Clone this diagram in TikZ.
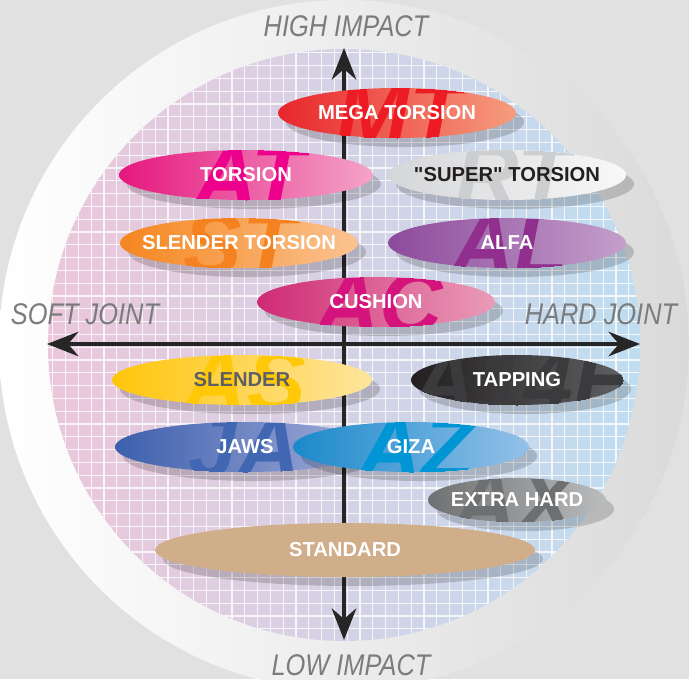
\documentclass[tikz,border=0pt]{standalone}
\usepackage{fontspec}
\setsansfont{Liberation Sans}
\usepackage{tikz}
\usetikzlibrary{arrows.meta,calc,positioning}

% page and chart colours
\definecolor{pageGray}{HTML}{E1E1E1}
\definecolor{ringGray}{HTML}{DADADA}
\definecolor{diskL}{HTML}{EBC7DB}
\definecolor{diskM}{HTML}{DAD4E5}
\definecolor{diskR}{HTML}{BFDDF0}
\definecolor{axisGray}{HTML}{7B7C7E}
% one set per bit: L/R = gradient, T = big tag letters, W = label text
\definecolorset{HTML}{mt}{}{L,E8262C;R,F69C7E;T,ED1C24;W,FFFFFF}
\definecolorset{HTML}{at}{}{L,E5187F;R,F4A3C8;T,EC008C;W,FFFFFF}
\definecolorset{HTML}{rt}{}{L,D5D6D8;R,F8F8F8;T,CDCED0;W,231F20}
\definecolorset{HTML}{st}{}{L,F5861F;R,FBC391;T,F58220;W,FFFFFF}
\definecolorset{HTML}{al}{}{L,8D4A9C;R,C49FCB;T,912F8F;W,FFFFFF}
\definecolorset{HTML}{ac}{}{L,CF2A75;R,EA9CB8;T,D4147C;W,FFFFFF}
\definecolorset{HTML}{as}{}{L,FEC60B;R,FEE59D;T,FFC907;W,5E5F61}
\definecolorset{HTML}{tp}{}{L,231F20;R,5E5F61;T,3B3B3D;W,FFFFFF}
\definecolorset{HTML}{ja}{}{L,3D5FAD;R,A5AFDA;T,4267B2;W,FFFFFF}
\definecolorset{HTML}{az}{}{L,1B89CB;R,93C1E8;T,0096D6;W,FFFFFF}
\definecolorset{HTML}{ax}{}{L,6F7072;R,BBBCBE;T,6E6F71;W,FFFFFF}
\definecolorset{HTML}{sd}{}{L,CFAE89;R,CFAE89;T,CFAE89;W,FFFFFF}

\begin{document}
\begin{tikzpicture}[x=0.02cm,y=-0.02cm,
    bitlabel/.style={font=\sffamily\bfseries\fontsize{11.5}{12}\selectfont, inner sep=0pt},
    bittag/.style={font=\sffamily\bfseries\itshape\fontsize{50}{50}\selectfont, inner sep=0pt},
    axislabel/.style={font=\sffamily\itshape\fontsize{17}{17}\selectfont, text=axisGray, xscale=0.85, inner sep=0pt},
    axisline/.style={line width=2pt, black!85, arrows={Stealth[length=18pt,width=14pt,inset=6pt]-Stealth[length=18pt,width=14pt,inset=6pt]}}]
  \useasboundingbox (0,0) rectangle (689,679);
  \clip (0,0) rectangle (689,679);
  % background and outer ring
  \fill[pageGray] (0,0) rectangle (689,679);
  \shade[left color=white, right color=ringGray] (344,345) circle (345);
  % the tinted disk with its grid
  \shade[left color=diskL, middle color=diskM, right color=diskR] (344,345) circle (296);
  \begin{scope}
    \clip (344,345) circle (296);
    \foreach \g in {0,...,48} {
      \draw[white, line width=0.6pt, opacity=.8] (40+\g*12.8,40) -- ++(0,620);
      \draw[white, line width=0.6pt, opacity=.8] (40,40+\g*12.8) -- ++(620,0);
    }
  \end{scope}
  % axes
  \coordinate (top) at (344,48);
  \coordinate (bottom) at (344,640);
  \coordinate (west) at (47,344);
  \coordinate (east) at (640,344);
  \draw[axisline] (bottom) -- (top);
  \draw[axisline] (west) -- (east);
  \node[axislabel] (high) at (346,26) {HIGH IMPACT};
  \node[axislabel] (low) at (351,665) {LOW IMPACT};
  \node[axislabel] (soft) at (85,314) {SOFT JOINT};
  \node[axislabel] (hard) at (601,314) {HARD JOINT};
  % the bits
  \foreach \n/\x/\y/\rx/\ry/\tag/\tx/\lab in {
      mt/397/113/119/25/MT/400/MEGA TORSION,
      at/246/175/127/25/AT/250/TORSION,
      rt/507/175/119/25/RT/513/\textquotedbl SUPER\textquotedbl{} TORSION,
      st/239/243/119/25/ST/240/SLENDER TORSION,
      al/507/243/119/25/AL/510/ALFA,
      ac/376/302/119/25/AC/380/CUSHION,
      as/242/380/130/25/AS/245/SLENDER,
      tp/517/380/106/25/A14H/525/TAPPING,
      ja/245/447/130/25/JA/245/JAWS,
      az/411/447/118/25/AZ/417/GIZA,
      ax/517/500/89/22/AX/515/EXTRA HARD,
      sd/345/550/190/27//345/STANDARD} {
    \fill[black, opacity=.17] (\x+8,\y+9) ellipse ({\rx} and {\ry});
    \shade[left color=\n L, right color=\n R] (\x,\y) ellipse ({\rx} and {\ry});
    \begin{scope}
      \clip (\x,\y) ellipse ({\rx} and {\ry});
      \node[bittag, text=\n T] at (\tx,\y+1) {\tag};
    \end{scope}
    \node[bitlabel, text=\n W] (\n) at (\x,\y) {\lab};
  }
\end{tikzpicture}
\end{document}
